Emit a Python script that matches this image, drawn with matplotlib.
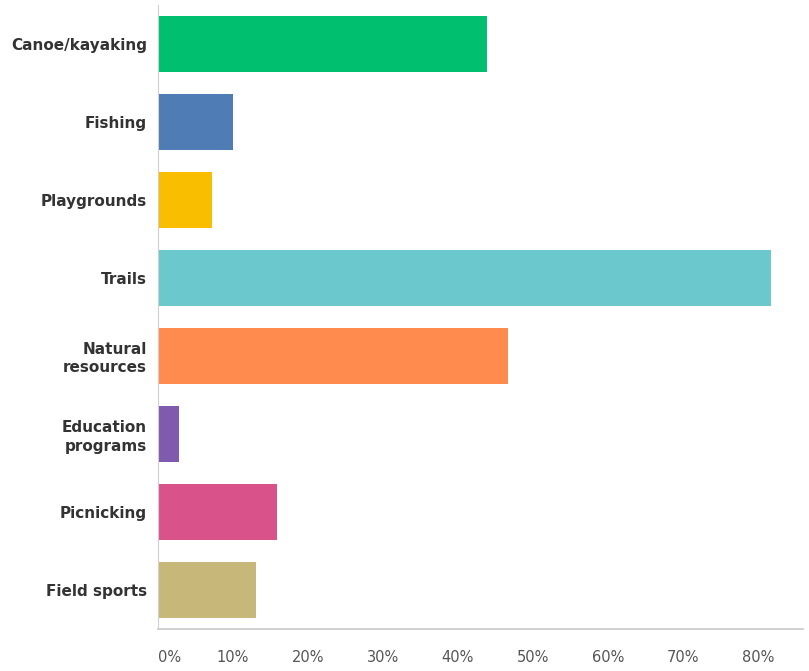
import matplotlib
matplotlib.use("Agg")
import matplotlib.pyplot as plt

categories = ["Canoe/kayaking", "Fishing", "Playgrounds", "Trails",
              "Natural\nresources", "Education\nprograms", "Picnicking", "Field sports"]
values = [43.9, 10.0, 7.2, 81.7, 46.7, 2.8, 15.9, 13.1]
colors = ["#00BF6F", "#507CB6", "#F9BE00", "#6BC8CD",
          "#FF8B4F", "#7F5AAE", "#D9538A", "#C7B879"]
ticks = [0, 10, 20, 30, 40, 50, 60, 70, 80]
tick_labels = [f"{t}%" for t in ticks]

fig = plt.figure(figsize=(8.09, 6.71), dpi=100)
ax = fig.add_axes([158/809, 1 - 629/671, (803-158)/809, (629-5)/671])

y = list(range(len(categories)))
ax.barh(y, values, height=0.72, color=colors)
ax.set_ylim(len(categories) - 0.5, -0.5)
ax.set_xlim(0, 86)

ax.set_yticks(y)
ax.set_yticklabels(categories, fontsize=11, fontweight="bold", color="#333333",
                   linespacing=1.25)
ax.tick_params(axis="y", length=0, pad=8)

ax.set_xticks(ticks)
ax.set_xticklabels(tick_labels, fontsize=10.5, color="#555555")
ax.tick_params(axis="x", length=0, pad=15)
ax.get_xticklabels()[0].set_ha("left")

for s in ["top", "right"]:
    ax.spines[s].set_visible(False)
ax.spines["left"].set_color("#d0d0d0")
ax.spines["bottom"].set_color("#c8c8c8")
ax.spines["bottom"].set_linewidth(1.2)

fig.savefig("out.png", dpi=100)
